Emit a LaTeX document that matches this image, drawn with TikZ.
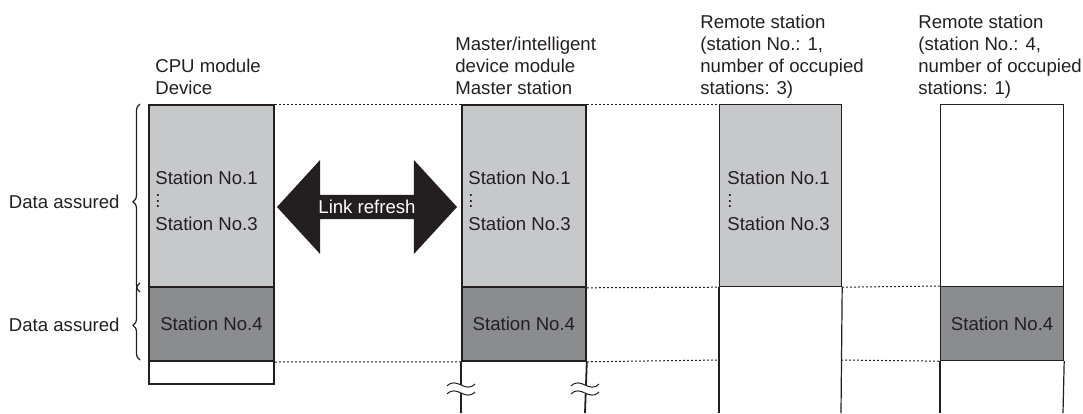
\documentclass[tikz,border=0pt]{standalone}
\usepackage{fontspec}
\setmainfont{Liberation Sans}
\usetikzlibrary{shapes.arrows,decorations.pathreplacing}
\definecolor{ink}{HTML}{231F20}
\definecolor{lightfill}{HTML}{C7C8CA}
\definecolor{darkfill}{HTML}{8B8C8E}
\newcommand\stdots{\vbox{\baselineskip2.8pt\lineskiplimit0pt\hbox{.}\hbox{.}\hbox{.}}}
\begin{document}
\begin{tikzpicture}[x=0.5pt, y=-0.5pt, font=\fontsize{9.3}{11}\selectfont,
  every node/.style={text=ink},
  cell/.style={draw=ink, line width=0.6pt, anchor=north west, inner sep=0pt},
  light/.style={cell, fill=lightfill, minimum height=91pt},
  dark/.style={cell, fill=darkfill, minimum height=37pt},
  head/.style={anchor=north west, inner sep=0pt, align=left, font=\fontsize{9.3}{11}\selectfont},
  stations/.style={anchor=north west, inner sep=0pt, align=left, font=\fontsize{9.3}{11.5}\selectfont},
  dotline/.style={ink, line width=0.5pt, dash pattern=on 1pt off 1pt},
  openline/.style={ink, line width=0.6pt}]
\useasboundingbox (0,0) rectangle (1083,413);

% headers
\node[head] (hcpu) at (155,59) {CPU module\\Device};
\node[head] (hmas) at (455,37) {Master/intelligent\\device module\\Master station};
\node[head] (hremA) at (700,15) {Remote station\\(station No.: 1,\\number of occupied\\stations: 3)};
\node[head] (hremB) at (918,15) {Remote station\\(station No.: 4,\\number of occupied\\stations: 1)};

% CPU module
\node[light, line width=1pt, minimum width=62.5pt] (cpuA) at (148,104) {};
\node[dark, line width=1pt, minimum width=62.5pt] (cpuB) at (148,286) {Station No.4};
\node[cell, line width=1pt, minimum width=62.5pt, minimum height=11.5pt] (cpuC) at (148,360) {};

% master station
\node[light, line width=0.9pt, minimum width=62pt] (masA) at (461,104) {};
\node[dark, line width=0.9pt, minimum width=62pt] (masB) at (461,286) {Station No.4};
\coordinate (masL) at (461,413);
\coordinate (masR) at (585,413);
\draw[openline, line width=0.9pt] (masB.south west) -- (masL);
\draw[openline, line width=0.9pt] (masB.south east) -- (masR);

% remote stations
\node[light, minimum width=61pt] (remA) at (719,104) {};
\coordinate (remAL) at (719,413);
\coordinate (remAR) at (841,413);
\draw[openline] (remA.south west) -- (remAL);
\draw[openline] (remA.south east) -- (remAR);

\node[cell, minimum width=61.5pt, minimum height=91pt] (remB0) at (940,104) {};
\node[dark, minimum width=61.5pt] (remB) at (940,286) {Station No.4};
\coordinate (remBL) at (940,413);
\coordinate (remBR) at (1063,413);
\draw[openline] (remB.south west) -- (remBL);
\draw[openline] (remB.south east) -- (remBR);

% station texts
\node[stations] (tcpu) at (155,171) {Station No.1\\\stdots\\Station No.3};
\node[stations] (tmas) at (468,171) {Station No.1\\\stdots\\Station No.3};
\node[stations] (trem) at (727,171) {Station No.1\\\stdots\\Station No.3};

% dotted lines
\draw[dotline] (cpuA.north east) -- (masA.north west);
\draw[dotline] (masA.north east) -- (remA.north west);
\draw[dotline] (masA.south east) -- (remA.south west);
\draw[dotline] (remA.south east) -- (remB.north west);
\coordinate (remA4) at (719,360);
\coordinate (remA4r) at (841,360);
\draw[dotline] (cpuB.south east) -- (masB.south west);
\draw[dotline] (masB.south east) -- (remA4);
\draw[dotline] (remA4r) -- (remB.south west);

% breaks
\foreach \x in {461,585}
{
    \fill[white] (\x-14,386) .. controls (\x-4,376) and (\x+4,394) .. (\x+14,384)
      -- (\x+14,392) .. controls (\x+4,402) and (\x-4,384) .. (\x-14,394) -- cycle;
    \draw[ink, line width=0.5pt] (\x-14,386) .. controls (\x-4,376) and (\x+4,394) .. (\x+14,384);
    \draw[ink, line width=0.5pt] (\x-14,394) .. controls (\x-4,384) and (\x+4,402) .. (\x+14,392);
}

% link refresh
\node[double arrow, fill=ink, text=white, inner sep=0pt, minimum width=47pt,
  minimum height=90pt, double arrow head extend=10.5pt, double arrow tip angle=95]
  (link) at (367,207) {Link refresh};

% braces
\coordinate (brA1) at (140,292);
\coordinate (brA2) at (140,104);
\coordinate (brB1) at (140,360);
\coordinate (brB2) at (140,283);
\draw[ink, line width=0.6pt, decorate, decoration={brace, amplitude=3.5pt, aspect=0.48}] (brA1) -- (brA2);
\draw[ink, line width=0.6pt, decorate, decoration={brace, amplitude=3.5pt, aspect=0.45}] (brB1) -- (brB2);
\node[anchor=east, inner sep=0pt] (daA) at (120,202) {Data assured};
\node[anchor=east, inner sep=0pt] (daB) at (120,325) {Data assured};

\end{tikzpicture}
\end{document}
